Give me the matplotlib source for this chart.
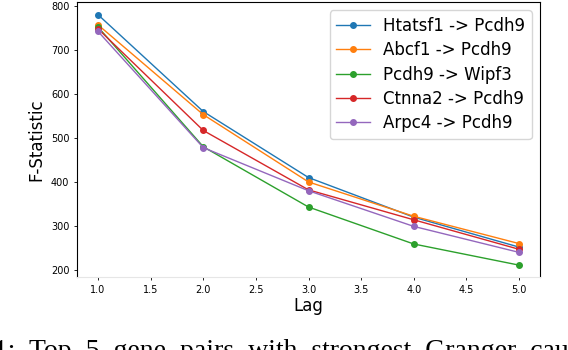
import matplotlib
matplotlib.use("Agg")
import matplotlib.pyplot as plt

# Daten: F-Statistik je Lag fuer die Top-5 Genpaare
lags = [1.0, 2.0, 3.0, 4.0, 5.0]
htatsf1 = [780, 560, 410, 320, 252]
abcf1 = [757, 553, 400, 322, 260]
pcdh9 = [752, 480, 343, 259, 211]
ctnna2 = [748, 517, 382, 314, 247]
arpc4 = [742, 478, 380, 299, 240]
labels = ["Htatsf1 -> Pcdh9", "Abcf1 -> Pcdh9", "Pcdh9 -> Wipf3",
          "Ctnna2 -> Pcdh9", "Arpc4 -> Pcdh9"]
series = [htatsf1, abcf1, pcdh9, ctnna2, arpc4]

fig = plt.figure(figsize=(5.68, 3.5), dpi=100)
ax = fig.add_axes([0.1356, 0.2086, 0.8151, 0.7857])

for werte, name in zip(series, labels):
    ax.plot(lags, werte, marker="o", markersize=4, linewidth=1, label=name)

ax.set_ylim(184, 809)
ax.set_yticks([200, 300, 400, 500, 600, 700, 800])
ax.tick_params(labelsize=7, length=2, width=0.6)
ax.set_xlabel("Lag", fontsize=12, labelpad=2)
ax.set_ylabel("F-Statistic", fontsize=12, labelpad=4)
ax.spines["bottom"].set_color("#e6e6e6")
ax.legend(fontsize=12, loc="upper right", handlelength=2.0, labelspacing=0.38)

# Bildunterschrift (unten abgeschnitten, wie im Original)
fig.text(15 / 568, -8 / 350, "Figure 1:", family="Liberation Serif",
         fontsize=20, ha="right", va="baseline")
fig.text(29 / 568, -8 / 350,
         "Top  5  gene  pairs  with  strongest  Granger  causality",
         family="Liberation Serif", fontsize=20, ha="left", va="baseline")

fig.savefig("out.png", dpi=100)
